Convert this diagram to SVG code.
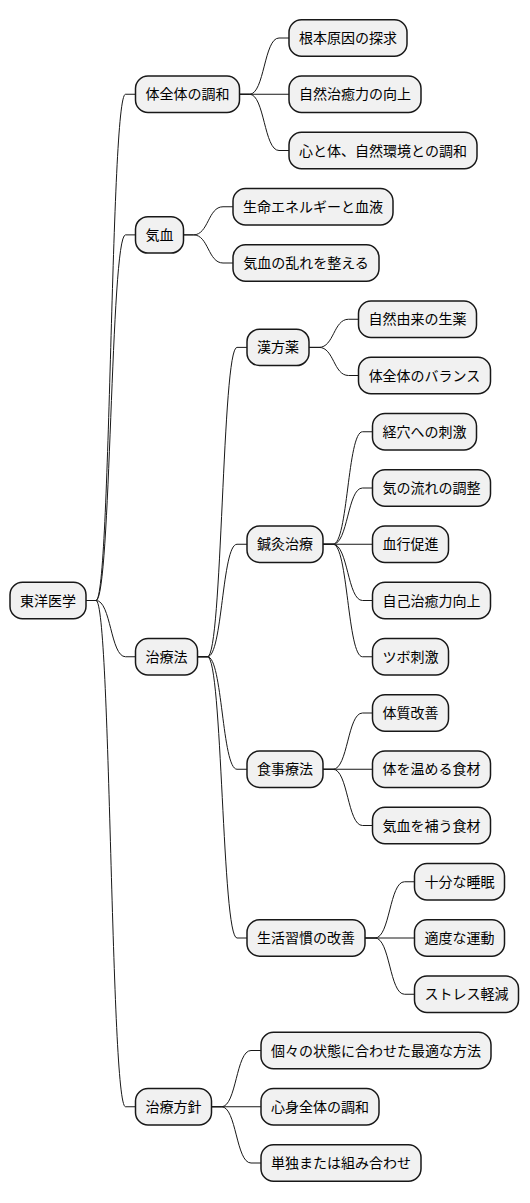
<svg xmlns="http://www.w3.org/2000/svg" width="530" height="1203" viewBox="0 0 530 1203">
<style>
.n rect{fill:#F1F1F1;stroke:#181818;stroke-width:1.5}
.n text{font-family:"Noto Sans CJK JP","Noto Sans",sans-serif;font-size:14px;fill:#000;text-anchor:middle}
#links path{fill:none;stroke:#181818;stroke-width:1}
</style>
<rect width="530" height="1203" fill="#FFFFFF"/>
<g id="links">
<path d="M86 600.5 H96 C111 600.5 110.5 94.25 125.5 94.25 H135.5"/>
<path d="M86 600.5 H96 C111 600.5 110.5 234.875 125.5 234.875 H135.5"/>
<path d="M86 600.5 H96 C111 600.5 110.5 656.75 125.5 656.75 H135.5"/>
<path d="M86 600.5 H96 C111 600.5 110.5 1106.75 125.5 1106.75 H135.5"/>
<path d="M239.5 94.25 H249.5 C264.5 94.25 264 38 279 38 H289"/>
<path d="M239.5 94.25 H289"/>
<path d="M239.5 94.25 H249.5 C264.5 94.25 264 150.5 279 150.5 H289"/>
<path d="M183.5 234.875 H193.5 C208.5 234.875 208 206.75 223 206.75 H233"/>
<path d="M183.5 234.875 H193.5 C208.5 234.875 208 263 223 263 H233"/>
<path d="M197.5 656.75 H207.5 C222.5 656.75 222 347.375 237 347.375 H247"/>
<path d="M197.5 656.75 H207.5 C222.5 656.75 222 544.25 237 544.25 H247"/>
<path d="M197.5 656.75 H207.5 C222.5 656.75 222 769.25 237 769.25 H247"/>
<path d="M197.5 656.75 H207.5 C222.5 656.75 222 938 237 938 H247"/>
<path d="M309 347.375 H319 C334 347.375 333.5 319.25 348.5 319.25 H358.5"/>
<path d="M309 347.375 H319 C334 347.375 333.5 375.5 348.5 375.5 H358.5"/>
<path d="M323 544.25 H333 C348 544.25 347.5 431.75 362.5 431.75 H372.5"/>
<path d="M323 544.25 H333 C348 544.25 347.5 488 362.5 488 H372.5"/>
<path d="M323 544.25 H372.5"/>
<path d="M323 544.25 H333 C348 544.25 347.5 600.5 362.5 600.5 H372.5"/>
<path d="M323 544.25 H333 C348 544.25 347.5 656.75 362.5 656.75 H372.5"/>
<path d="M323 769.25 H333 C348 769.25 347.5 713 362.5 713 H372.5"/>
<path d="M323 769.25 H372.5"/>
<path d="M323 769.25 H333 C348 769.25 347.5 825.5 362.5 825.5 H372.5"/>
<path d="M365 938 H375 C390 938 389.5 881.75 404.5 881.75 H414.5"/>
<path d="M365 938 H414.5"/>
<path d="M365 938 H375 C390 938 389.5 994.25 404.5 994.25 H414.5"/>
<path d="M211.5 1106.75 H221.5 C236.5 1106.75 236 1050.5 251 1050.5 H261"/>
<path d="M211.5 1106.75 H261"/>
<path d="M211.5 1106.75 H221.5 C236.5 1106.75 236 1163 251 1163 H261"/>
</g>
<g id="root" class="n"><rect x="10" y="582.35" width="76" height="36.3" rx="12.5"/><text x="48" y="605.5">東洋医学</text></g>
<g id="n1" class="n"><rect x="135.5" y="76.1" width="104" height="36.3" rx="12.5"/><text x="187.5" y="99.25">体全体の調和</text></g>
<g id="n1a" class="n"><rect x="289" y="19.85" width="118" height="36.3" rx="12.5"/><text x="348" y="43">根本原因の探求</text></g>
<g id="n1b" class="n"><rect x="289" y="76.1" width="132" height="36.3" rx="12.5"/><text x="355" y="99.25">自然治癒力の向上</text></g>
<g id="n1c" class="n"><rect x="289" y="132.35" width="188" height="36.3" rx="12.5"/><text x="383" y="155.5">心と体、自然環境との調和</text></g>
<g id="n2" class="n"><rect x="135.5" y="216.725" width="48" height="36.3" rx="12.5"/><text x="159.5" y="239.875">気血</text></g>
<g id="n2a" class="n"><rect x="233" y="188.6" width="160" height="36.3" rx="12.5"/><text x="313" y="211.75">生命エネルギーと血液</text></g>
<g id="n2b" class="n"><rect x="233" y="244.85" width="146" height="36.3" rx="12.5"/><text x="306" y="268">気血の乱れを整える</text></g>
<g id="n3" class="n"><rect x="135.5" y="638.6" width="62" height="36.3" rx="12.5"/><text x="166.5" y="661.75">治療法</text></g>
<g id="n3a" class="n"><rect x="247" y="329.225" width="62" height="36.3" rx="12.5"/><text x="278" y="352.375">漢方薬</text></g>
<g id="n3a1" class="n"><rect x="358.5" y="301.1" width="118" height="36.3" rx="12.5"/><text x="417.5" y="324.25">自然由来の生薬</text></g>
<g id="n3a2" class="n"><rect x="358.5" y="357.35" width="132" height="36.3" rx="12.5"/><text x="424.5" y="380.5">体全体のバランス</text></g>
<g id="n3b" class="n"><rect x="247" y="526.1" width="76" height="36.3" rx="12.5"/><text x="285" y="549.25">鍼灸治療</text></g>
<g id="n3b1" class="n"><rect x="372.5" y="413.6" width="104" height="36.3" rx="12.5"/><text x="424.5" y="436.75">経穴への刺激</text></g>
<g id="n3b2" class="n"><rect x="372.5" y="469.85" width="118" height="36.3" rx="12.5"/><text x="431.5" y="493">気の流れの調整</text></g>
<g id="n3b3" class="n"><rect x="372.5" y="526.1" width="76" height="36.3" rx="12.5"/><text x="410.5" y="549.25">血行促進</text></g>
<g id="n3b4" class="n"><rect x="372.5" y="582.35" width="118" height="36.3" rx="12.5"/><text x="431.5" y="605.5">自己治癒力向上</text></g>
<g id="n3b5" class="n"><rect x="372.5" y="638.6" width="76" height="36.3" rx="12.5"/><text x="410.5" y="661.75">ツボ刺激</text></g>
<g id="n3c" class="n"><rect x="247" y="751.1" width="76" height="36.3" rx="12.5"/><text x="285" y="774.25">食事療法</text></g>
<g id="n3c1" class="n"><rect x="372.5" y="694.85" width="76" height="36.3" rx="12.5"/><text x="410.5" y="718">体質改善</text></g>
<g id="n3c2" class="n"><rect x="372.5" y="751.1" width="118" height="36.3" rx="12.5"/><text x="431.5" y="774.25">体を温める食材</text></g>
<g id="n3c3" class="n"><rect x="372.5" y="807.35" width="118" height="36.3" rx="12.5"/><text x="431.5" y="830.5">気血を補う食材</text></g>
<g id="n3d" class="n"><rect x="247" y="919.85" width="118" height="36.3" rx="12.5"/><text x="306" y="943">生活習慣の改善</text></g>
<g id="n3d1" class="n"><rect x="414.5" y="863.6" width="90" height="36.3" rx="12.5"/><text x="459.5" y="886.75">十分な睡眠</text></g>
<g id="n3d2" class="n"><rect x="414.5" y="919.85" width="90" height="36.3" rx="12.5"/><text x="459.5" y="943">適度な運動</text></g>
<g id="n3d3" class="n"><rect x="414.5" y="976.1" width="104" height="36.3" rx="12.5"/><text x="466.5" y="999.25">ストレス軽減</text></g>
<g id="n4" class="n"><rect x="135.5" y="1088.6" width="76" height="36.3" rx="12.5"/><text x="173.5" y="1111.75">治療方針</text></g>
<g id="n4a" class="n"><rect x="261" y="1032.35" width="230" height="36.3" rx="12.5"/><text x="376" y="1055.5">個々の状態に合わせた最適な方法</text></g>
<g id="n4b" class="n"><rect x="261" y="1088.6" width="118" height="36.3" rx="12.5"/><text x="320" y="1111.75">心身全体の調和</text></g>
<g id="n4c" class="n"><rect x="261" y="1144.85" width="160" height="36.3" rx="12.5"/><text x="341" y="1168">単独または組み合わせ</text></g>
</svg>
